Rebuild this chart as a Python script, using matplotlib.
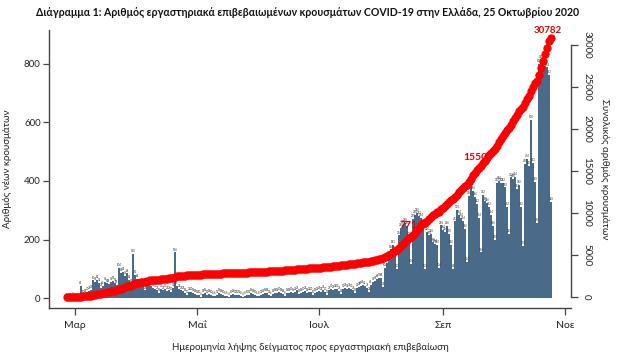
import numpy as np
import pandas as pd
import matplotlib
matplotlib.use("Agg")
import matplotlib.pyplot as plt

plt.rcParams['font.family'] = ['Lato', 'DejaVu Sans']

# ---------------- data (daily new cases by sample date) ----------------
start_date = "2020-02-26"
end_date = "2020-10-25"
feb = [1, 2, 1, 3]
mar = [2, 2, 2, 40, 10, 14, 20,
       24, 28, 60, 56, 62, 52, 34,
       40, 56, 50, 48, 56, 58, 52,
       44, 104, 86, 88, 76, 84, 62,
       50, 150, 80]
apr = [64, 48, 48, 40,
       26, 44, 58, 40, 36, 30, 26,
       16, 30, 26, 30, 24, 26, 20,
       34, 156, 40, 32, 26, 24, 18,
       12, 22, 20, 16, 14]
may = [12, 10,
       4, 14, 16, 12, 14, 10, 8,
       6, 12, 16, 14, 10, 8, 6,
       4, 10, 14, 12, 10, 12, 8,
       4, 8, 10, 12, 16, 14, 10,
       6]
jun = [8, 12, 14, 16, 18, 12,
       6, 14, 18, 16, 20, 18, 14,
       8, 16, 18, 20, 16, 22, 26,
       14, 18, 20, 24, 18, 22, 20,
       10, 18, 22]
jul = [24, 22, 28, 20,
       12, 26, 30, 28, 32, 30, 24,
       14, 30, 34, 32, 36, 30, 26,
       16, 34, 38, 40, 44, 42, 36,
       22, 46, 54, 58, 64, 70]
aug = [68,
       38, 104, 120, 144, 166, 181, 160,
       100, 214, 240, 250, 258, 246, 208,
       116, 270, 284, 290, 282, 274, 236,
       100, 226, 214, 220, 190, 184, 180,
       104, 248]
sep = [234, 226, 246, 218, 180,
       98, 262, 300, 284, 274, 264, 236,
       124, 350, 384, 366, 346, 322, 274,
       156, 352, 330, 326, 312, 284, 246,
       198, 392, 400, 392]
octo = [392, 378, 312,
        220, 412, 408, 414, 372, 388, 312,
        178, 458, 474, 450, 608, 462, 398,
        256, 800, 815, 808, 793, 788, 762,
        328]

daily = np.array(feb + mar + apr + may + jun + jul + aug + sep + octo)
dates = pd.date_range(start_date, end_date, freq="D")
cumulative = np.cumsum(daily)

xtick_dates = ["2020-03-01", "2020-05-01", "2020-07-01", "2020-09-01", "2020-11-01"]
xtick_labels = ["Μαρ", "Μαΐ", "Ιουλ", "Σεπ", "Νοε"]
left_ticks = [0, 200, 400, 600, 800]
right_ticks = [0, 5000, 10000, 15000, 20000, 25000, 30000]

mark_labels = ["771", "1550"]
mark_dates = ["2020-08-15", "2020-09-17"]
mark_values = [8570, 16550]

title = ("Διάγραμμα 1: Αριθμός εργαστηριακά επιβεβαιωμένων κρουσμάτων "
         "COVID-19 στην Ελλάδα, 25 Οκτωβρίου 2020")

# ---------------- figure ----------------
W, H = 622, 355
fig = plt.figure(figsize=(W / 100, H / 100), dpi=100)
L, R, T, B = 49, 571, 30, 308
ax = fig.add_axes([L / W, 1 - B / H, (R - L) / W, (B - T) / H])

bar_color = "#4a6a89"
axis_color = "#444444"

ax.bar(dates, daily, width=1.0, color=bar_color, linewidth=0, align="center", zorder=2)
for d, v in zip(dates, daily):
    ax.text(d, v + 3, str(v), fontsize=2.0, ha="center", va="bottom",
            color="#333333", zorder=3)

ax.set_ylim(-34, 916)
ax.set_xlim(pd.Timestamp("2020-02-17"), pd.Timestamp("2020-11-04"))
ax.set_yticks(left_ticks)
ax.set_yticklabels([str(t) for t in left_ticks], fontsize=7, color="#222222")
ax.set_xticks(pd.to_datetime(xtick_dates))
ax.set_xticklabels(xtick_labels, fontsize=7.5, color="#222222")
ax.tick_params(axis="y", length=4, width=0.9, color=axis_color, pad=2)
ax.tick_params(axis="x", length=5, width=0.9, color=axis_color, pad=4)
for s in ["top", "right"]:
    ax.spines[s].set_visible(False)
for s in ["left", "bottom"]:
    ax.spines[s].set_color(axis_color)
    ax.spines[s].set_linewidth(1.0)
ax.set_ylabel("Αριθμός νέων κρουσμάτων", fontsize=7, color="#222222")
ax.yaxis.set_label_coords((12 - L) / (R - L), 0.5)
ax.set_xlabel("Ημερομηνία λήψης δείγματος προς εργαστηριακή επιβεβαίωση",
              fontsize=7, color="#222222")
ax.xaxis.set_label_coords((310 - L) / (R - L), (B - 343) / (B - T))

# secondary axis: cumulative
ax2 = ax.twinx()
ax2.plot(dates, cumulative, color="#ff0000", linestyle="-", linewidth=2,
         marker="o", markersize=6, markeredgewidth=0, zorder=4)
ax2.set_ylim(-1310, 31786)
ax2.set_yticks(right_ticks)
ax2.set_yticklabels([str(t) for t in right_ticks], fontsize=7, color="#222222",
                    rotation=270, va="center")
ax2.tick_params(axis="y", length=5, width=0.9, color=axis_color, pad=3)
for s in ["top", "left", "bottom"]:
    ax2.spines[s].set_visible(False)
ax2.spines["right"].set_bounds(0, 30000)
ax2.spines["right"].set_color(axis_color)
ax2.spines["right"].set_linewidth(1.0)
ax2.set_ylabel("Συνολικός αριθμός κρουσμάτων", fontsize=7, color="#222222",
               rotation=270, va="center")
ax2.yaxis.set_label_coords((605 - L) / (R - L), 0.5)

# annotations
for lab, d, v in zip(mark_labels, mark_dates, mark_values):
    ax2.text(pd.Timestamp(d), v, lab, fontsize=7.5, fontweight="bold",
             color="#e00000", ha="center", va="center", zorder=3)
ax2.text(dates[-1] - pd.Timedelta(days=1.5), 31700, str(cumulative[-1]),
         fontsize=7, fontweight="bold", color="#e00000", ha="center", va="center",
         zorder=6)

fig.text(308 / W, 1 - 12 / H, title, fontsize=7.6, fontweight="bold",
         ha="center", va="center", color="#111111")

fig.savefig("out.png", dpi=100, facecolor="white")
